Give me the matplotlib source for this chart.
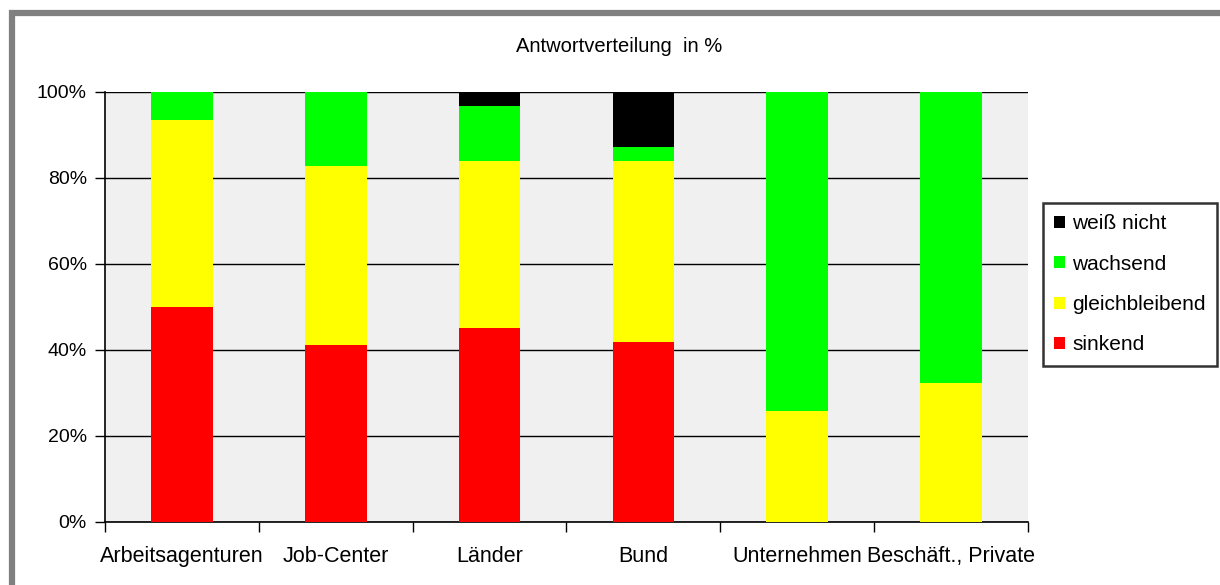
import matplotlib
matplotlib.use("Agg")
import matplotlib.pyplot as plt
from matplotlib.patches import Rectangle
import numpy as np

plt.rcParams['font.family'] = ['Liberation Sans', 'DejaVu Sans']

categories = ["Arbeitsagenturen", "Job-Center", "Länder", "Bund", "Unternehmen", "Beschäft., Private"]
series_names = ["sinkend", "gleichbleibend", "wachsend", "weiß nicht"]
sinkend = [50.0, 41.2, 45.1, 41.9, 0.0, 0.0]
gleichbleibend = [43.5, 41.6, 38.9, 42.1, 25.8, 32.3]
wachsend = [6.5, 17.2, 12.7, 3.2, 74.2, 67.7]
weiss_nicht = [0.0, 0.0, 3.3, 12.8, 0.0, 0.0]
colors = ["#ff0000", "#ffff00", "#00ff00", "#000000"]
yticks = [0, 20, 40, 60, 80, 100]
yticklabels = ["0%", "20%", "40%", "60%", "80%", "100%"]

fig = plt.figure(figsize=(12.2, 5.85), dpi=100)
fig.patch.set_facecolor("white")

# grey outer frame (top and left visible)
fig.add_artist(Rectangle((11.5/1220, -0.05), 1.2, 1 - 13/585 + 0.05, transform=fig.transFigure,
                         fill=False, edgecolor="#808080", linewidth=4.5))

ax = fig.add_axes([105/1220, 1 - 522/585, (1028-105)/1220, (522-92)/585])
ax.set_facecolor("#f0f0f0")

x = np.arange(len(categories))
data = [sinkend, gleichbleibend, wachsend, weiss_nicht]
bottom = np.zeros(len(categories))
handles = []
for vals, name, col in zip(data, series_names, colors):
    b = ax.bar(x, vals, width=0.4, bottom=bottom, color=col, label=name, zorder=3, linewidth=0)
    handles.append(b)
    bottom += np.array(vals)

ax.set_xlim(-0.5, len(categories) - 0.5)
ax.set_ylim(0, 100)
ax.set_yticks(yticks)
ax.set_yticklabels(yticklabels, fontsize=14)
ax.yaxis.grid(True, color="black", linewidth=1.0, zorder=1)
ax.set_axisbelow(True)

ax.set_xticks(np.arange(-0.5, len(categories), 1.0))
ax.set_xticklabels([])
ax.set_xticks(x, minor=True)
ax.set_xticklabels(categories, minor=True, fontsize=15.5)
ax.tick_params(axis="x", which="minor", length=0, pad=17)
ax.tick_params(axis="x", which="major", length=7, width=1, direction="out", color="black")
ax.tick_params(axis="y", length=7, width=1, direction="out", pad=6)

for s in ["top", "right"]:
    ax.spines[s].set_visible(False)
for s in ["left", "bottom"]:
    ax.spines[s].set_color("black")
    ax.spines[s].set_linewidth(1.2)

fig.text(619/1220, 1 - 47/585, "Antwortverteilung  in %", ha="center", va="center", fontsize=14.5)

leg = fig.legend(handles[::-1], series_names[::-1], loc="upper left",
                 bbox_to_anchor=(1043/1220, 1 - 203/585), frameon=True, fancybox=False,
                 fontsize=15, handlelength=0.5, handleheight=0.5, handletextpad=0.35,
                 labelspacing=1.02, borderpad=0.55, borderaxespad=0)
leg.get_frame().set_edgecolor("black")
leg.get_frame().set_linewidth(1.8)

fig.savefig("out.png", dpi=100)
